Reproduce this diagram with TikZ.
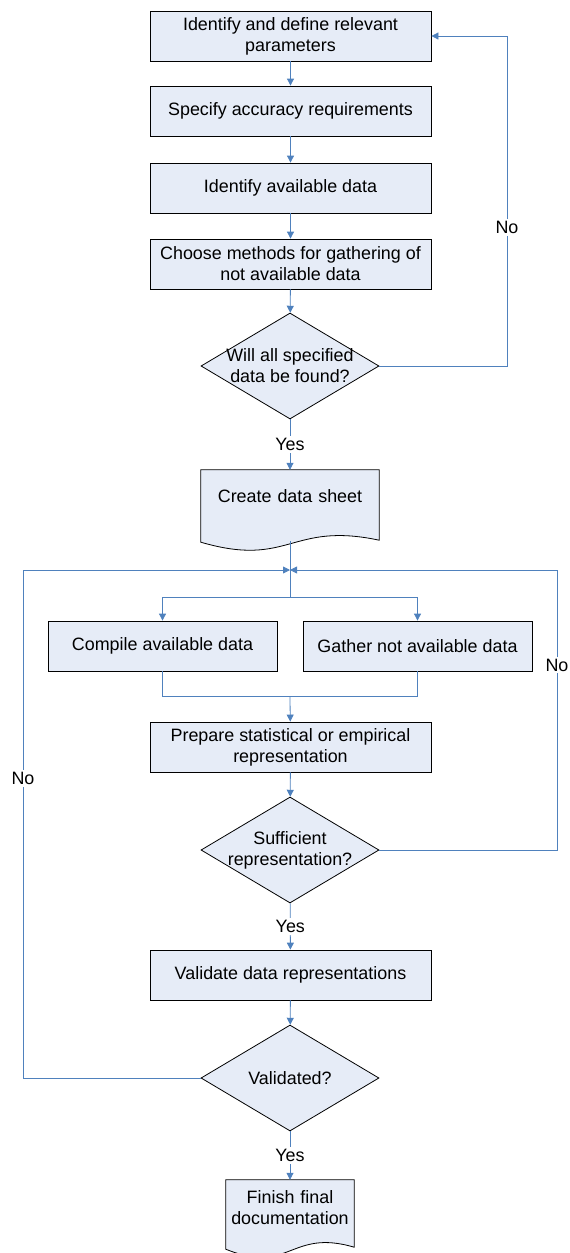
\documentclass[tikz,border=0pt]{standalone}
\usepackage{fontspec}
\setmainfont{Liberation Sans}
\usetikzlibrary{shapes.geometric,arrows.meta,calc,backgrounds}
\definecolor{boxfill}{RGB}{230,236,247}
\definecolor{flowblue}{RGB}{79,129,189}
% document outline behind a node: name, drop of the wavy foot
\newcommand{\docoutline}[2]{%
	\begin{pgfonlayer}{background}
	\draw[draw=black,fill=boxfill,line width=0.8pt] (#1.north west) -- (#1.north east) -- ($(#1.south east)+(0,#2-1)$)
		.. controls ($(#1.south)+(0,#2-20)$) and ($(#1.south)+(0,#2+27)$) .. ($(#1.south west)+(0,#2+1)$) -- cycle;
	\end{pgfonlayer}
	\coordinate (#1-foot) at ($(#1.south)+(0,#2)$);}
\begin{document}
\begin{tikzpicture}[x=1pt,y=-1pt,
	font=\fontsize{17.9}{21}\selectfont,
	procbox/.style={rectangle,draw=black,fill=boxfill,line width=0.8pt,minimum width=281pt,minimum height=50pt,align=center},
	halfbox/.style={procbox,minimum width=229pt},
	decision/.style={diamond,draw=black,fill=boxfill,line width=0.8pt,minimum width=178pt,minimum height=106pt,inner sep=0pt},
	docbox/.style={rectangle,inner sep=0pt,align=center},
	line/.style={draw=flowblue,line width=0.8pt},
	flow/.style={line,-{Triangle[width=7pt,length=7pt]}},
	tag/.style={fill=white,inner sep=2pt}]
	\useasboundingbox (0,0) rectangle (570,1253);

	\node[procbox] (ident) at (290.5,36) {Identify and define relevant\\parameters};
	\node[procbox] (accur) at (290.5,111) {Specify accuracy requirements};
	\node[procbox] (avail) at (290.5,188) {Identify available data};
	\node[procbox] (method) at (290.5,264) {Choose methods for gathering of\\not available data};
	\node[decision,label={[align=center]center:Will all specified\\data be found?}] (found) at (290,366) {};
	\node[docbox,text width=178pt,minimum height=52pt] (sheet) at (290,496) {Create data sheet};
	\docoutline{sheet}{19}
	\node[halfbox] (comp) at (162.5,646) {Compile available data};
	\node[halfbox] (gath) at (417.5,646) {Gather not available data};
	\node[procbox] (prep) at (290.5,747) {Prepare statistical or empirical\\representation};
	\node[decision,label={[align=center]center:Sufficient\\representation?}] (suff) at (290,850) {};
	\node[procbox] (valid) at (290.5,975) {Validate data representations};
	\node[decision,label={center:Validated?}] (done) at (290,1078) {};
	\node[docbox,text width=128pt,minimum height=56pt] (finish) at (290,1208) {Finish final\\documentation};
	\docoutline{finish}{12}

	\coordinate (join) at (290,570);
	\coordinate (split) at (290,597);
	\coordinate (merge) at (290,696);
	\coordinate (rtop) at (507,366);
	\coordinate (rmid) at (557,850);
	\coordinate (lbot) at (23,1078);

	\draw[flow] (ident) -- (accur);
	\draw[flow] (accur) -- (avail);
	\draw[flow] (avail) -- (method);
	\draw[flow] (method) -- (found);
	\draw[flow] (found) -- node[tag]{Yes} (sheet.north);
	\draw[flow] (found.east) -- (rtop) |- node[tag,pos=0.21]{No} (ident.east);
	\draw[line] (sheet-foot) -- (split);
	\draw[flow] (split) -| (comp);
	\draw[flow] (split) -| (gath);
	\draw[line] (comp) |- (merge);
	\draw[line] (gath) |- (merge);
	\draw[flow] (merge) -- (prep);
	\draw[flow] (prep) -- (suff);
	\draw[flow] (suff) -- node[tag]{Yes} (valid);
	\draw[flow] (suff.east) -- (rmid) |- node[tag,pos=0.33]{No} (join);
	\draw[flow] (valid) -- (done);
	\draw[flow] (done) -- node[tag]{Yes} (finish.north);
	\draw[flow] (done.west) -- (lbot) |- node[tag,pos=0.295]{No} (join);
\end{tikzpicture}
\end{document}
